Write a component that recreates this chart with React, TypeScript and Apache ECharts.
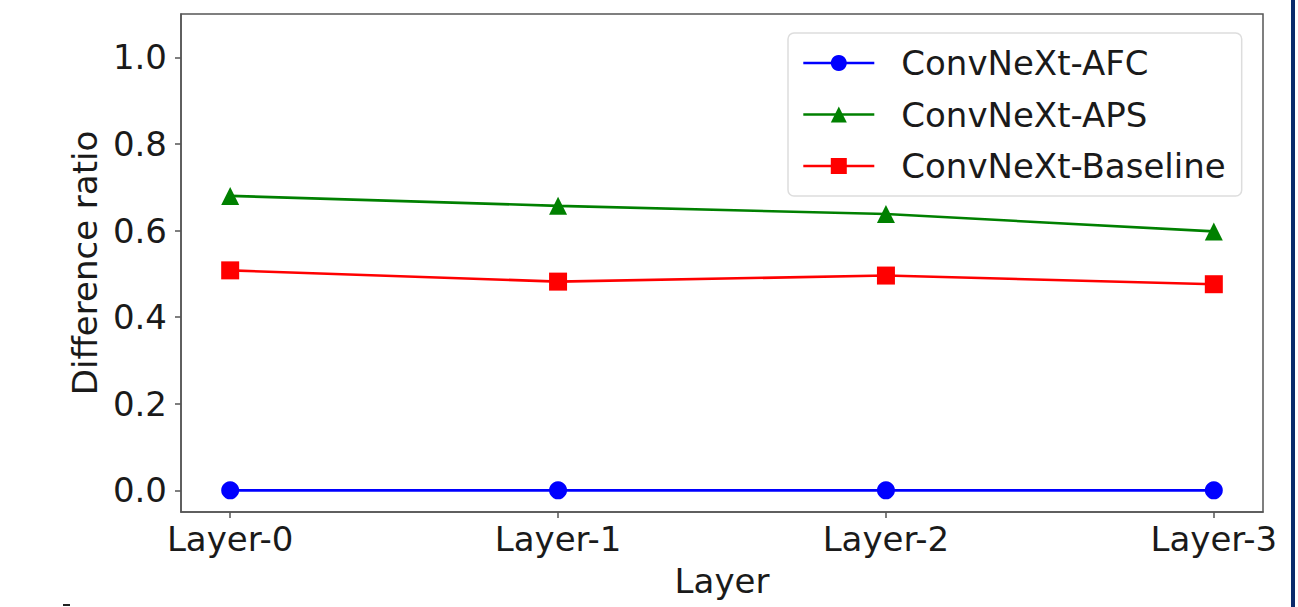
import React, { useEffect, useRef } from "react";
import * as echarts from "echarts";

const categories = ["Layer-0", "Layer-1", "Layer-2", "Layer-3"];
const afcValues = [0.0, 0.0, 0.0, 0.0];
const apsValues = [0.68, 0.657, 0.638, 0.598];
const baselineValues = [0.508, 0.482, 0.496, 0.476];
const yTicks = [0.0, 0.2, 0.4, 0.6, 0.8, 1.0];
const xTicks = [0, 1, 2, 3];

const FONT = "DejaVu Sans";
const FS = 34;

export default function App() {
  const ref = useRef<HTMLDivElement>(null);
  useEffect(() => {
    document.body.style.margin = "0";
    const chart = echarts.init(ref.current!, null, { renderer: "svg" });
    const toPts = (vals: number[]) => vals.map((v, i) => [i, v]);
    const mk = (name: string, vals: number[], color: string, symbol: string) => ({
      name,
      type: "line",
      data: toPts(vals),
      symbol,
      symbolSize: 18,
      lineStyle: { color, width: 2.6 },
      itemStyle: { color },
      emphasis: { disabled: true },
    });
    chart.setOption({
      animation: false,
      backgroundColor: "#ffffff",
      grid: {
        left: 181,
        top: 14,
        right: 35,
        bottom: 95,
        show: true,
        borderColor: "#555555",
        borderWidth: 1.5,
        backgroundColor: "transparent",
      },
      legend: {
        left: 788,
        top: 33,
        orient: "vertical",
        itemWidth: 71,
        itemHeight: 20,
        itemGap: 17.5,
        padding: [13, 16, 13, 14],
        backgroundColor: "#ffffff",
        borderColor: "#dddddd",
        borderWidth: 1.5,
        borderRadius: 6,
        lineStyle: { width: 2.6 },
        textStyle: {
          fontFamily: FONT,
          fontSize: FS,
          color: "#1a1a1a",
          padding: [0, 0, 0, 22],
        },
        data: ["ConvNeXt-AFC", "ConvNeXt-APS", "ConvNeXt-Baseline"],
      },
      xAxis: {
        type: "value",
        min: -0.15,
        max: 3.15,
        name: "Layer",
        nameLocation: "middle",
        nameGap: 52,
        nameTextStyle: { fontFamily: FONT, fontSize: FS, color: "#1a1a1a" },
        splitLine: { show: false },
        axisLine: { show: true, onZero: false, lineStyle: { color: "#555555", width: 1.5 } },
        axisTick: { show: true, length: 6, customValues: xTicks, lineStyle: { color: "#555555", width: 1.5 } },
        axisLabel: {
          customValues: xTicks,
          formatter: (v: number) => categories[Math.round(v)] ?? "",
          fontFamily: FONT,
          fontSize: FS,
          color: "#1a1a1a",
          margin: 10,
        },
      },
      yAxis: {
        type: "value",
        min: -0.05,
        max: 1.1,
        name: "Difference ratio",
        nameLocation: "middle",
        nameGap: 75,
        nameTextStyle: { fontFamily: FONT, fontSize: FS, color: "#1a1a1a" },
        splitLine: { show: false },
        axisLine: { show: true, onZero: false, lineStyle: { color: "#555555", width: 1.5 } },
        axisTick: { show: true, length: 6, customValues: yTicks, lineStyle: { color: "#555555", width: 1.5 } },
        axisLabel: {
          customValues: yTicks,
          formatter: (v: number) => v.toFixed(1),
          fontFamily: FONT,
          fontSize: FS,
          color: "#1a1a1a",
          margin: 14,
        },
      },
      graphic: [
        { type: "rect", left: 1291, top: 0, shape: { width: 4, height: 607 }, style: { fill: "#0b2a6b" } },
        { type: "rect", left: 63, top: 604, shape: { width: 7, height: 2 }, style: { fill: "#222222" } },
      ],
      series: [
        mk("ConvNeXt-AFC", afcValues, "#0000ff", "circle"),
        mk("ConvNeXt-APS", apsValues, "#008000", "triangle"),
        mk("ConvNeXt-Baseline", baselineValues, "#ff0000", "rect"),
      ],
    });
    return () => chart.dispose();
  }, []);
  return <div ref={ref} style={{ width: 1298, height: 607 }} />;
}
